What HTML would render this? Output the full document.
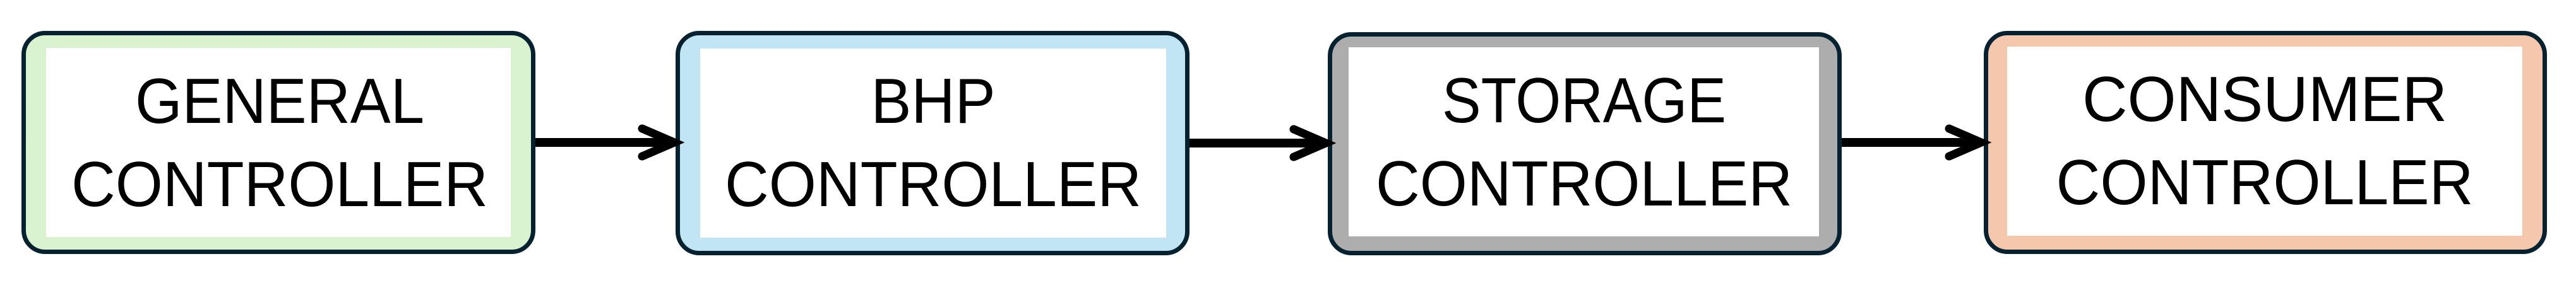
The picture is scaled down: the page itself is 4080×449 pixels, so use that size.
<!DOCTYPE html>
<html><head><meta charset="utf-8"><style>
html,body{margin:0;padding:0;background:#fff;}
svg{display:block;}
text{font-family:"Liberation Sans",Arial,sans-serif;font-size:101px;fill:#000;}
</style></head><body>
<svg width="4080" height="449" viewBox="0 0 4080 449" xmlns="http://www.w3.org/2000/svg">
<!-- Box 1 -->
<rect x="37.5" y="52.5" width="807" height="347" rx="34" ry="34" fill="#d9f2d0" stroke="#06212f" stroke-width="7"/>
<rect x="73" y="76" width="736" height="300" fill="#fff"/>
<text x="443" y="195" text-anchor="middle" textLength="458" lengthAdjust="spacingAndGlyphs">GENERAL</text>
<text x="443" y="327" text-anchor="middle" textLength="660" lengthAdjust="spacingAndGlyphs">CONTROLLER</text>
<!-- Box 2 -->
<rect x="1073.5" y="52.5" width="807" height="349" rx="34" ry="34" fill="#c1e5f5" stroke="#06212f" stroke-width="7"/>
<rect x="1109" y="77" width="738" height="300" fill="#fff"/>
<text x="1478" y="195" text-anchor="middle" textLength="197" lengthAdjust="spacingAndGlyphs">BHP</text>
<text x="1478" y="327" text-anchor="middle" textLength="660" lengthAdjust="spacingAndGlyphs">CONTROLLER</text>
<!-- Box 3 -->
<rect x="2106.5" y="54.5" width="807" height="347" rx="34" ry="34" fill="#adadad" stroke="#06212f" stroke-width="7"/>
<rect x="2136" y="75" width="745" height="300" fill="#fff"/>
<text x="2509" y="194" text-anchor="middle" textLength="450" lengthAdjust="spacingAndGlyphs">STORAGE</text>
<text x="2509" y="326" text-anchor="middle" textLength="660" lengthAdjust="spacingAndGlyphs">CONTROLLER</text>
<!-- Box 4 -->
<rect x="3145.5" y="52.5" width="885" height="347" rx="34" ry="34" fill="#f5c8ad" stroke="#06212f" stroke-width="7"/>
<rect x="3179" y="74" width="816" height="300" fill="#fff"/>
<text x="3587" y="192" text-anchor="middle" textLength="578" lengthAdjust="spacingAndGlyphs">CONSUMER</text>
<text x="3587" y="324" text-anchor="middle" textLength="661" lengthAdjust="spacingAndGlyphs">CONTROLLER</text>
<!-- Arrows -->
<g stroke="#000" stroke-width="14" fill="none" stroke-linecap="round" stroke-linejoin="miter">
<line x1="848" y1="226" x2="1062" y2="226" stroke-linecap="butt"/>
<polyline points="1017,204 1068,226 1017,248" stroke-width="13"/>
<line x1="1884" y1="227" x2="2094" y2="227" stroke-linecap="butt"/>
<polyline points="2049,205 2100,227 2049,249" stroke-width="13"/>
<line x1="2917" y1="226" x2="3132" y2="226" stroke-linecap="butt"/>
<polyline points="3087,204 3138,226 3087,248" stroke-width="13"/>
</g>
</svg>
</body></html>
